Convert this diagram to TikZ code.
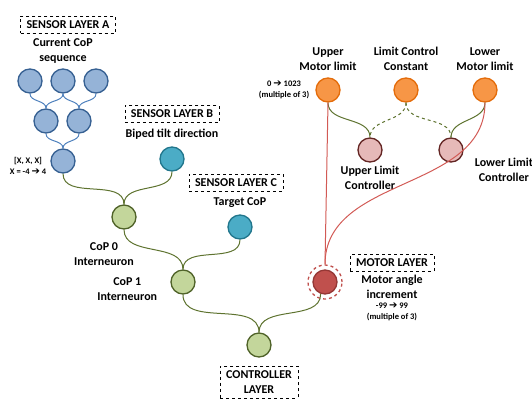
\documentclass[tikz,border=0pt]{standalone}
\usepackage{fontspec}
\setmainfont{Carlito}
\newfontfamily\arrowfont{DejaVu Sans}
\usetikzlibrary{positioning}
\definecolor{bluefill}{RGB}{149,179,215}
\definecolor{blueedge}{RGB}{54,96,146}
\definecolor{bluewire}{RGB}{79,129,189}
\definecolor{cyanfill}{RGB}{75,172,198}
\definecolor{cyanedge}{RGB}{33,118,140}
\definecolor{greenfill}{RGB}{195,214,155}
\definecolor{greenedge}{RGB}{79,98,40}
\definecolor{olivewire}{RGB}{94,115,47}
\definecolor{redfill}{RGB}{192,80,77}
\definecolor{rededge}{RGB}{149,55,53}
\definecolor{redwire}{RGB}{210,90,85}
\definecolor{orangefill}{RGB}{247,150,70}
\definecolor{orangeedge}{RGB}{228,108,10}
\definecolor{pinkfill}{RGB}{230,185,184}
\definecolor{pinkedge}{RGB}{99,37,35}
\newcommand{\bigarrow}{{\arrowfont\fontsize{10}{10}\selectfont\char"2794}}

\begin{document}
\begin{tikzpicture}[x=1pt, y=-1pt,
		neuron/.style={circle, line width=1.3pt, minimum size=24pt, inner sep=0pt},
		sensorA/.style={neuron, draw=blueedge, fill=bluefill},
		sensorB/.style={neuron, draw=cyanedge, fill=cyanfill},
		inter/.style={neuron, draw=greenedge, fill=greenfill},
		motorcell/.style={neuron, draw=rededge, fill=redfill},
		limit/.style={neuron, draw=orangeedge, fill=orangefill},
		limitctrl/.style={neuron, draw=pinkedge, fill=pinkfill},
		layerbox/.style={draw, dashed, thin, font=\bfseries\fontsize{12}{15}\selectfont, align=center, inner xsep=6pt, inner ysep=4.5pt},
		caption/.style={font=\bfseries\fontsize{12}{15}\selectfont, align=center, inner sep=1pt},
		note/.style={font=\bfseries\fontsize{8.5}{11}\selectfont, align=center, inner sep=1pt},
		wire/.style={out=-90, in=90, line width=1pt},
		bluelink/.style={wire, draw=bluewire},
		greenlink/.style={wire, draw=olivewire},
		redlink/.style={wire, draw=redwire}
	]
		\useasboundingbox (0,0) rectangle (532,402);

		% sensor layer A
		\node[sensorA] (a1) at (30,81) {};
		\node[sensorA] (a2) at (63,81) {};
		\node[sensorA] (a3) at (96,81) {};
		\node[sensorA] (b1) at (46,121) {};
		\node[sensorA] (b2) at (79,121) {};
		\node[sensorA] (seq) at (63,161) {};
		\node[caption, above=4pt of a2] (seqtext) {Current CoP\\sequence};
		\node[layerbox, above=4pt of seqtext, xshift=5pt] (boxA) {SENSOR LAYER A};
		\node[note, left=3pt of seq, yshift=-5pt] (seqnote) {[X, X, X]\\X = -4 \bigarrow\ 4};

		% sensor layers B and C
		\node[sensorB] (tilt) at (172,159) {};
		\node[caption, above=6pt of tilt] (tilttext) {Biped tilt direction};
		\node[layerbox, above=5pt of tilttext] (boxB) {SENSOR LAYER B};
		\node[sensorB] (target) at (240,227) {};
		\node[caption, above=6pt of target] (targettext) {Target CoP};
		\node[layerbox, above=5pt of targettext, xshift=-4pt] (boxC) {SENSOR LAYER C};

		% interneurons and controller
		\node[inter] (cop0) at (124,217) {};
		\node[caption, below left=15pt and -20pt of cop0] (cop0text) {CoP 0\\Interneuron};
		\node[inter] (cop1) at (183,282) {};
		\node[caption, left=12pt of cop1, yshift=-7pt] (cop1text) {CoP 1\\Interneuron};
		\node[inter] (ctrl) at (259,345) {};
		\node[layerbox, below=8pt of ctrl] (boxCtrl) {CONTROLLER\\LAYER};

		% motor layer
		\node[motorcell] (motor) at (325,282) {};
		\node[circle, draw=redfill, dashed, line width=1.3pt, minimum size=34pt] (ring) at (motor) {};
		\node[layerbox] (boxM) at (392,263) {MOTOR LAYER};
		\node[caption, below=2pt of boxM] (motortext) {Motor angle\\increment};
		\node[note, below=2pt of motortext] (motornote) {-99 \bigarrow\ 99\\(multiple of 3)};

		% limits
		\node[limit] (upper) at (328,90) {};
		\node[limit] (const) at (406,90) {};
		\node[limit] (lower) at (485,90) {};
		\node[caption, above=6pt of upper] (uppertext) {Upper\\Motor limit};
		\node[caption, above=6pt of const] (consttext) {Limit Control\\Constant};
		\node[caption, above=6pt of lower] (lowertext) {Lower\\Motor limit};
		\node[note, left=5pt of upper] (uppernote) {0 \bigarrow\ 1023\\(multiple of 3)};
		\node[limitctrl] (uctrl) at (370,150) {};
		\node[limitctrl] (lctrl) at (451,150) {};
		\node[caption, below=2pt of uctrl] (uctrltext) {Upper Limit\\Controller};
		\node[caption, right=10pt of lctrl, yshift=-20pt] (lctrltext) {Lower Limit\\Controller};

		\draw[bluelink] (a1.south) to (b1.north);
		\draw[bluelink] (a2.south) to (b1.north);
		\draw[bluelink] (a2.south) to (b2.north);
		\draw[bluelink] (a3.south) to (b2.north);
		\draw[bluelink] (b1.south) to (seq.north);
		\draw[bluelink] (b2.south) to (seq.north);

		\draw[greenlink] (seq.south) to (cop0.north);
		\draw[greenlink] (tilt.south) to (cop0.north);
		\draw[greenlink] (cop0.south) to (cop1.north);
		\draw[greenlink] (target.south) to (cop1.north);
		\draw[greenlink] (cop1.south) to (ctrl.north);
		\draw[greenlink] (motor.-110) to (ctrl.north);

		\draw[greenlink] (upper.south) to (uctrl.north);
		\draw[greenlink, dashed] (const.south) to (uctrl.north);
		\draw[greenlink, dashed] (const.south) to (lctrl.north);
		\draw[greenlink] (lower.south) to (lctrl.north);

		\draw[redwire, line width=1pt] (upper.south) -- (ring.north);
		\draw[redlink] (lower.south) to (ring.north);
	\end{tikzpicture}
\end{document}
